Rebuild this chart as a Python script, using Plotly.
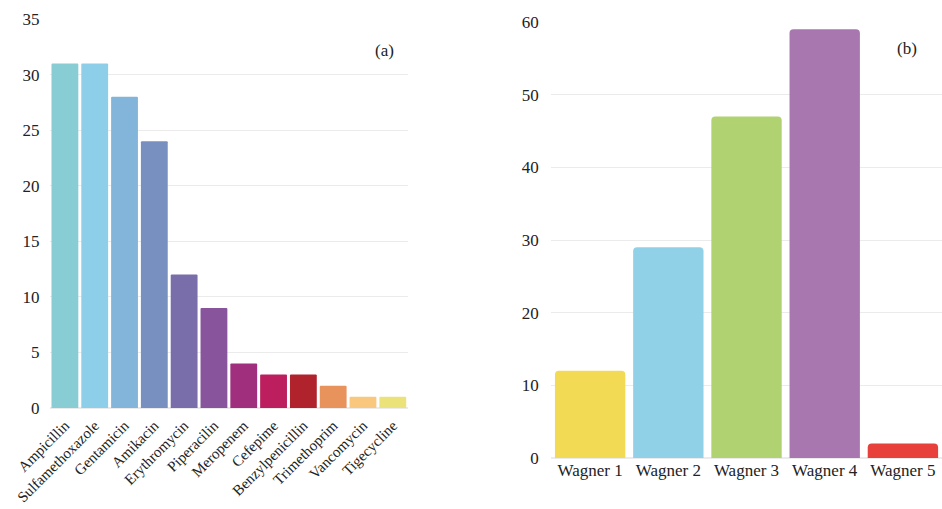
import plotly.graph_objects as go

antibiotics = ["Ampicillin", "Sulfamethoxazole", "Gentamicin", "Amikacin", "Erythromycin",
               "Piperacilin", "Meropenem", "Cefepime", "Benzylpenicillin", "Trimethoprim",
               "Vancomycin", "Tigecycline"]
antibiotic_counts = [31, 31, 28, 24, 12, 9, 4, 3, 3, 2, 1, 1]
antibiotic_colors = ["#88CDD3", "#8DCFE8", "#83B4DA", "#7890BF", "#7A6EAA", "#88559D",
                     "#A0307E", "#BD1E5E", "#B1232C", "#E8925C", "#F9C77E", "#EBE27A"]

wagner = ["Wagner 1", "Wagner 2", "Wagner 3", "Wagner 4", "Wagner 5"]
wagner_counts = [12, 29, 47, 59, 2]
wagner_colors = ["#F2DA55", "#91D1E8", "#B0D271", "#A877AF", "#E8403A"]

font_family = "Liberation Serif"
fs = 17

fig = go.Figure()
fig.add_trace(go.Bar(x=antibiotics, y=antibiotic_counts, marker=dict(color=antibiotic_colors, line=dict(width=0), cornerradius=1),
                     xaxis="x", yaxis="y", showlegend=False))
fig.add_trace(go.Bar(x=wagner, y=wagner_counts, marker=dict(color=wagner_colors, line=dict(width=0), cornerradius=4),
                     xaxis="x2", yaxis="y2", showlegend=False))

grid = "#EBEBEB"
fig.update_layout(
    width=942, height=509,
    margin=dict(l=50, r=0, t=19, b=51),
    paper_bgcolor="white", plot_bgcolor="white",
    font=dict(family=font_family, size=fs, color="#222222"),
    bargap=0.1,
    xaxis=dict(domain=[0.0, 0.401], anchor="y", tickangle=-45, showgrid=False, showline=False,
               ticks="outside", ticklen=2, tickcolor="white", tickfont=dict(size=15, family=font_family),
               automargin=False),
    yaxis=dict(domain=[0.114, 1.0], anchor="x", range=[0, 35], dtick=5, gridcolor=grid,
               zeroline=True, zerolinecolor=grid, showline=False, ticks="outside", ticklen=6,
               tickcolor="white", tickfont=dict(size=fs, family=font_family), automargin=False),
    xaxis2=dict(domain=[0.5617, 1.0], anchor="y2", showgrid=False, showline=False, ticks="",
                tickfont=dict(size=fs, family=font_family), automargin=False),
    yaxis2=dict(domain=[0.0, 0.993], anchor="x2", range=[0, 60], dtick=10, gridcolor=grid,
                zeroline=True, zerolinecolor=grid, showline=False, ticks="outside", ticklen=8,
                tickcolor="white", tickfont=dict(size=fs, family=font_family), automargin=False),
    annotations=[
        dict(text="(a)", xref="paper", yref="paper", x=0.375, y=0.955, showarrow=False,
             font=dict(size=fs, family=font_family, color="#222222")),
        dict(text="(b)", xref="paper", yref="paper", x=0.974, y=0.96, showarrow=False,
             font=dict(size=fs, family=font_family, color="#222222")),
    ],
)

fig.write_html("out.html")
